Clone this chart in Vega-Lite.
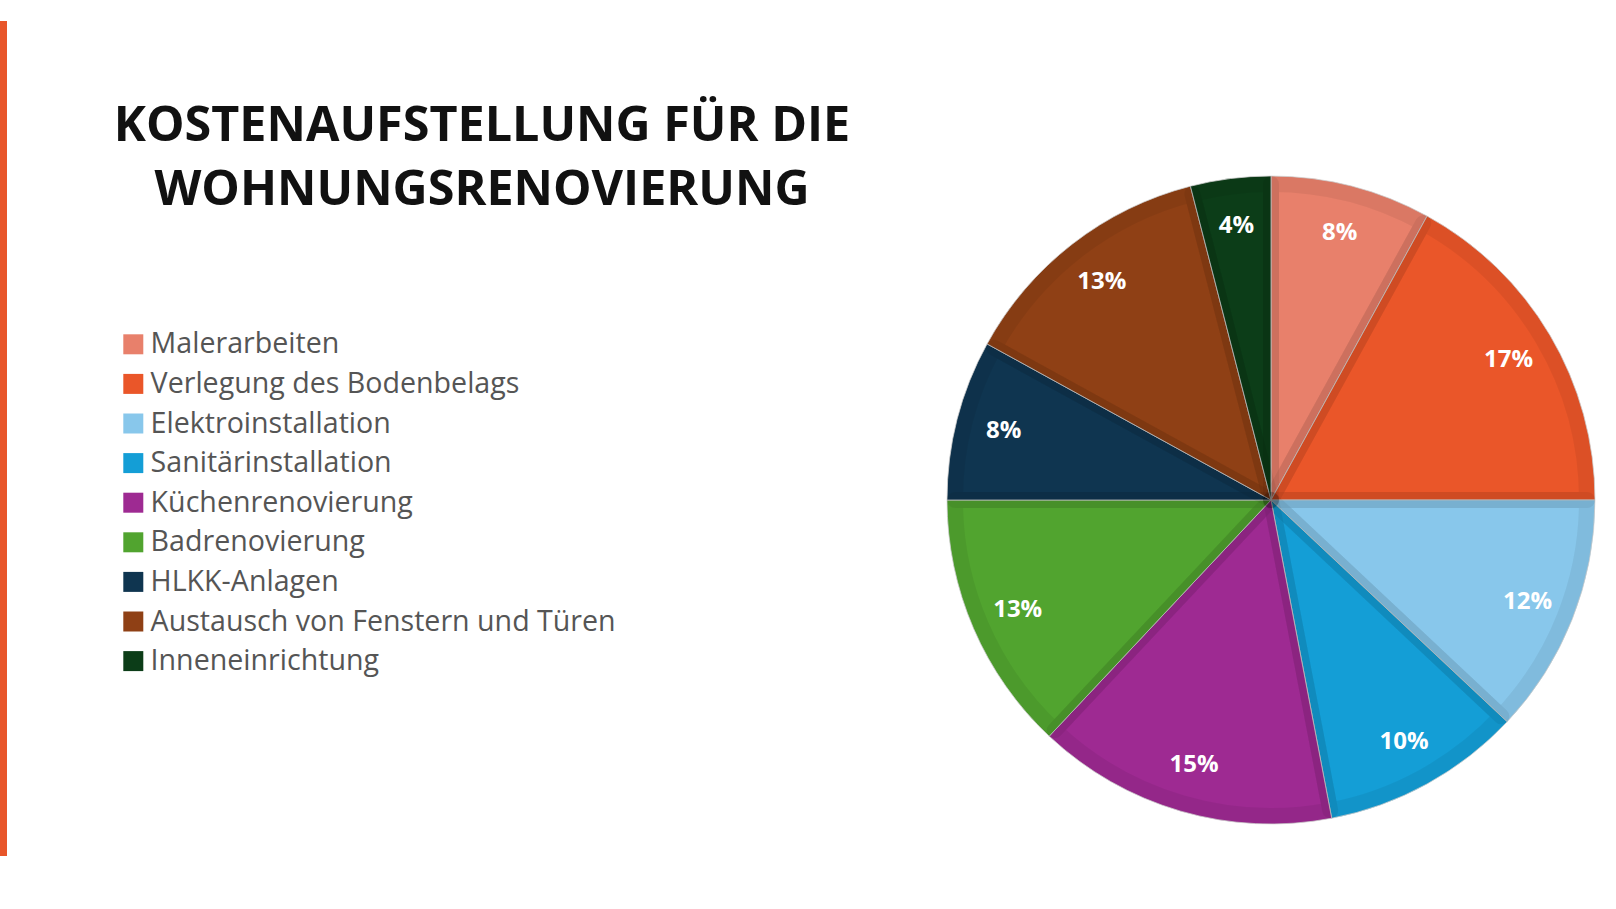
{
  "$schema": "https://vega.github.io/schema/vega-lite/v6.json",
  "background": "white",
  "padding": {"left": 0, "top": 21, "right": 0, "bottom": 0},
  "bounds": "flush",
  "spacing": 0,
  "config": {
    "view": {"stroke": null},
    "legend": {
      "symbolType": "square",
      "symbolSize": 400,
      "symbolStrokeWidth": 0,
      "symbolOpacity": 1,
      "labelFont": "Open Sans",
      "labelFontSize": 28.6,
      "labelColor": "#555555",
      "labelOffset": 3,
      "labelLimit": 800,
      "rowPadding": 10.6,
      "padding": 0
    }
  },
  "datasets": {
    "kosten": [
      {"nr": 1, "kategorie": "Malerarbeiten", "anteil": 8, "label": "8%"},
      {"nr": 2, "kategorie": "Verlegung des Bodenbelags", "anteil": 17, "label": "17%"},
      {"nr": 3, "kategorie": "Elektroinstallation", "anteil": 12, "label": "12%"},
      {"nr": 4, "kategorie": "Sanitärinstallation", "anteil": 10, "label": "10%"},
      {"nr": 5, "kategorie": "Küchenrenovierung", "anteil": 15, "label": "15%"},
      {"nr": 6, "kategorie": "Badrenovierung", "anteil": 13, "label": "13%"},
      {"nr": 7, "kategorie": "HLKK-Anlagen", "anteil": 8, "label": "8%"},
      {"nr": 8, "kategorie": "Austausch von Fenstern und Türen", "anteil": 13, "label": "13%"},
      {"nr": 9, "kategorie": "Inneneinrichtung", "anteil": 4, "label": "4%"}
    ]
  },
  "hconcat": [
    {
      "width": 7,
      "height": 835,
      "view": {"fill": "#E8562A", "stroke": null},
      "data": {"values": []},
      "mark": "rule",
      "encoding": {}
    },
    {
      "width": 939,
      "height": 72,
      "title": {
        "text": ["KOSTENAUFSTELLUNG FÜR DIE", "WOHNUNGSRENOVIERUNG"],
        "orient": "bottom",
        "anchor": "middle",
        "baseline": "top",
        "offset": 10,
        "dx": 5.5,
        "font": "Open Sans",
        "fontSize": 48.5,
        "fontWeight": "bold",
        "color": "#111111",
        "lineHeight": 64
      },
      "data": {"values": []},
      "mark": "rule",
      "encoding": {}
    },
    {
      "width": 650,
      "height": 958,
      "data": {"name": "kosten"},
      "layer": [
        {
          "mark": {"type": "arc", "outerRadius": 324, "stroke": "#d4d4d4", "strokeWidth": 0.8},
          "encoding": {
            "theta": {"field": "anteil", "type": "quantitative", "stack": true},
            "order": {"field": "nr", "type": "quantitative"},
            "color": {
              "field": "kategorie",
              "type": "nominal",
              "scale": {
                "domain": ["Malerarbeiten", "Verlegung des Bodenbelags", "Elektroinstallation", "Sanitärinstallation", "Küchenrenovierung", "Badrenovierung", "HLKK-Anlagen", "Austausch von Fenstern und Türen", "Inneneinrichtung"],
                "range": ["#E8806B", "#EA5629", "#88C7EB", "#149ED6", "#9E2A92", "#51A42F", "#0F3550", "#8F4015", "#0C3D18"]
              },
              "legend": {"title": null, "orient": "none", "legendX": 119, "legendY": 309}
            }
          }
        },
        {
          "mark": {"type": "arc", "outerRadius": 316, "filled": false, "color": "#000000", "strokeOpacity": 0.06, "strokeWidth": 16, "strokeJoin": "round"},
          "encoding": {
            "theta": {"field": "anteil", "type": "quantitative", "stack": true},
            "order": {"field": "nr", "type": "quantitative"}
          }
        },
        {
          "mark": {"type": "text", "radius": 276, "font": "Open Sans", "fontSize": 24, "fontWeight": "bold", "fill": "#ffffff"},
          "encoding": {
            "theta": {"field": "anteil", "type": "quantitative", "stack": true},
            "order": {"field": "nr", "type": "quantitative"},
            "text": {"field": "label", "type": "nominal"}
          }
        }
      ]
    }
  ]
}
